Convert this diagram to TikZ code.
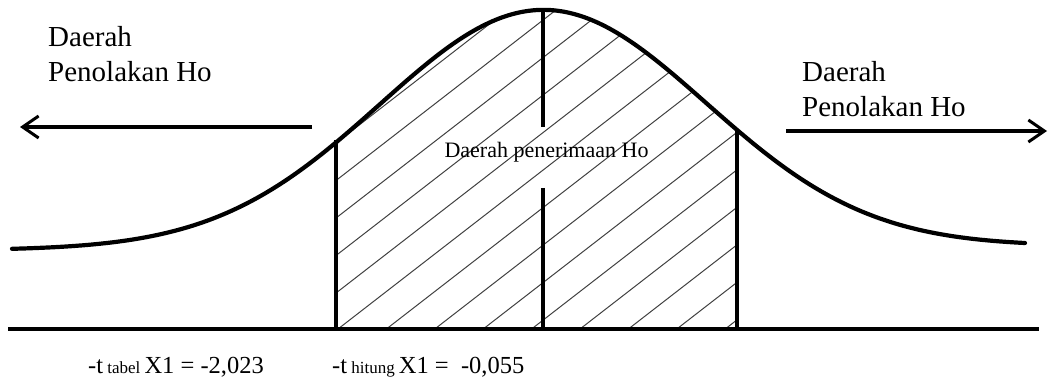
\documentclass[tikz,border=0pt]{standalone}
\usepackage{fontspec}
\setmainfont{Liberation Serif}
\usetikzlibrary{arrows.meta}
\begin{document}
\begin{tikzpicture}[x=1pt,y=-1pt,
  thickline/.style={line width=3.4pt},
  curveline/.style={line width=4.2pt,line cap=round},
  hatchline/.style={line width=1pt,black!75},
  bigarrow/.style={line width=3.2pt,-{Straight Barb[length=16pt,width=22pt,line width=3pt]}},
  sidelabel/.style={anchor=north west,inner sep=0pt,align=left,font=\fontsize{29}{35}\selectfont},
  bottomlabel/.style={anchor=base west,inner sep=0pt,font=\fontsize{24.5}{28}\selectfont}
]
\useasboundingbox (0,0) rectangle (1051,379);
\def\gauss(#1){250-4*((#1)-12)/1013-238*exp(-(((#1)-543)/163)^2/2)}
% hatching
\begin{scope}
  \clip (336,329) -- plot[domain=336:737,samples=80] (\x,{\gauss(\x)}) -- (737,329) -- cycle;
  \foreach \i in {-10,...,10}
    \draw[hatchline] ({338+48.4*\i},329) -- ++(440,-341);
\end{scope}
% curve
\draw[curveline] plot[domain=12:1025,samples=250] (\x,{\gauss(\x)});
% axis
\coordinate (baseL) at (8,329);
\coordinate (baseR) at (1039,329);
\draw[thickline] (baseL) -- (baseR);
% verticals
\coordinate (vLb) at (336,329);
\coordinate (vLt) at (336,140);
\coordinate (vRb) at (737,329);
\coordinate (vRt) at (737,130);
\coordinate (mTop) at (543,10);
\coordinate (mA) at (543,127);
\coordinate (mB) at (543,188);
\coordinate (mBot) at (543,329);
\draw[thickline] (vLb) -- (vLt);
\draw[thickline] (vRb) -- (vRt);
\draw[thickline] (mTop) -- (mA);
\draw[thickline] (mB) -- (mBot);
% arrows
\coordinate (aLs) at (312,127);
\coordinate (aLe) at (20,127);
\coordinate (aRs) at (786,131);
\coordinate (aRe) at (1047,131);
\draw[bigarrow] (aLs) -- (aLe);
\draw[bigarrow] (aRs) -- (aRe);
% labels
\node[sidelabel] (lblL) at (48,26) {Daerah\\Penolakan Ho};
\node[sidelabel] (lblR) at (802,61) {Daerah\\Penolakan Ho};
\node[anchor=base,inner sep=0pt,font=\fontsize{22}{26}\selectfont] (lblC) at (546.5,158) {Daerah penerimaan Ho};
\node[bottomlabel] (tTab) at (88,373) {-t{\fontsize{17}{20}\selectfont\ tabel}\,X1 = -2,023};
\node[bottomlabel] (tHit) at (332,373) {-t{\fontsize{17}{20}\selectfont\ hitung}\,X1 =\ \ -0,055};
\end{tikzpicture}
\end{document}
